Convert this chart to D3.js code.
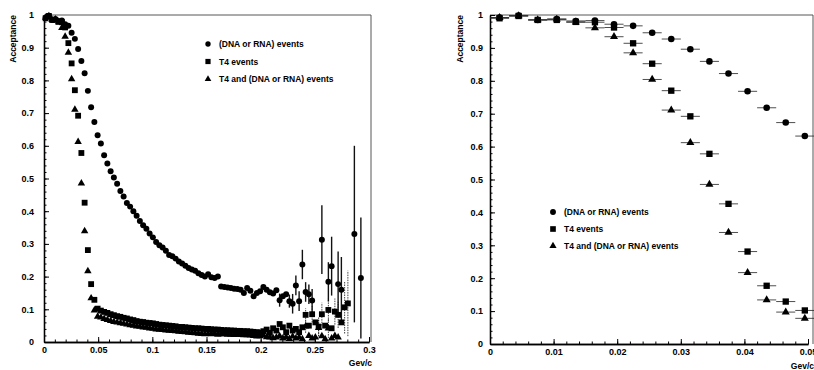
<html>
<head>
<title>Acceptance vs momentum</title>
<script type="text/javascript" src="https://cdnjs.cloudflare.com/ajax/libs/d3/7.8.5/d3.min.js"></script>
<style>
body { margin: 0; background: #fff; }
svg text { font-family: "Liberation Sans", Arial, sans-serif; font-weight: bold; fill: #000; }
</style>
<script type="text/javascript">

// histogram binning (Gev/c), bin centres are binWidth/2 + i*binWidth
var binWidth = 0.003;

// acceptance per bin (null = empty bin)
var dnaRna = [
  0.992, 0.998, 0.985, 0.988, 0.982, 0.983, 0.972, 0.967, 0.946, 0.927,
  0.896, 0.859, 0.822, 0.768, 0.718, 0.673, 0.632, 0.607, 0.571, 0.546,
  0.522, 0.503, 0.484, 0.462, 0.445, 0.425, 0.414, 0.400, 0.386, 0.370,
  0.357, 0.346, 0.332, 0.320, 0.306, 0.296, 0.289, 0.279, 0.266, 0.262,
  0.255, 0.246, 0.240, 0.233, 0.226, 0.222, 0.218, 0.210, 0.205, 0.200,
  0.207, 0.198, 0.196, 0.200, 0.170, 0.168, 0.167, 0.165, 0.163, 0.162,
  0.160, 0.150, 0.165, 0.157, 0.140, 0.150, 0.155, 0.168, 0.160, 0.152,
  0.148, 0.158, 0.128, 0.140, 0.146, 0.125, 0.117, 0.173, 0.125, 0.237,
  0.153, 0.146, 0.127, null, null, 0.313, null, 0.184, 0.232, null,
  0.177, 0.160, null, null, null, 0.330, null, 0.196, null, null
];

var t4 = [
  0.990, 0.997, 0.985, 0.985, 0.979, 0.978, 0.962, 0.914, 0.852, 0.770,
  0.692, 0.578, 0.426, 0.281, 0.177, 0.129, 0.102, 0.096, 0.092, 0.089,
  0.085, 0.082, 0.079, 0.077, 0.074, 0.072, 0.069, 0.067, 0.064, 0.062,
  0.061, 0.059, 0.058, 0.057, 0.055, 0.053, 0.052, 0.051, 0.050, 0.049,
  0.048, 0.046, 0.046, 0.045, 0.044, 0.043, 0.042, 0.042, 0.041, 0.040,
  0.040, 0.039, 0.038, 0.038, 0.037, 0.036, 0.036, 0.035, 0.035, 0.034,
  0.034, 0.033, 0.033, 0.032, 0.031, 0.030, 0.029, 0.033, 0.038, 0.028,
  0.042, 0.035, 0.055, 0.045, 0.030, 0.050, 0.035, 0.040, 0.030, 0.045,
  0.083, 0.050, 0.085, 0.060, 0.047, 0.085, 0.050, 0.098, 0.042, 0.093,
  0.083, 0.060, 0.106, 0.118, null, null, null, null, null, null
];

var t4AndDnaRna = [
  0.992, 0.997, 0.985, 0.987, 0.978, 0.961, 0.934, 0.885, 0.804, 0.711,
  0.612, 0.485, 0.339, 0.217, 0.134, 0.097, 0.078, 0.075, 0.071, 0.068,
  0.065, 0.062, 0.060, 0.058, 0.056, 0.054, 0.052, 0.050, 0.048, 0.047,
  0.045, 0.044, 0.042, 0.041, 0.039, 0.038, 0.037, 0.036, 0.035, 0.034,
  0.033, 0.032, 0.031, 0.030, 0.029, 0.028, 0.027, 0.026, 0.025, 0.024,
  0.025, 0.024, 0.025, 0.023, 0.024, 0.024, 0.023, 0.023, 0.022, 0.023,
  0.022, 0.021, 0.021, 0.020, 0.019, 0.017, 0.018, 0.020, 0.015, 0.014,
  0.012, 0.014, 0.018, 0.011, 0.015, 0.010, 0.017, 0.011, 0.014, 0.009,
  0.048, 0.019, 0.011, 0.014, 0.043, 0.018, 0.009, 0.042, 0.011, 0.019,
  0.014, null, null, null, null, null, null, null, null, null
];

// vertical errors that are visible on the plot, by bin index
var dnaRnaErr = { 72: 0.02, 75: 0.02, 76: 0.03, 77: 0.03, 78: 0.03, 79: 0.045, 80: 0.03, 81: 0.03, 82: 0.035,
                  85: 0.105, 87: 0.06, 88: 0.09, 90: 0.1, 91: 0.1, 95: 0.27, 97: 0.185 };
var t4Err = { 80: 0.02, 82: 0.025, 84: 0.03, 85: 0.035, 87: 0.035, 89: 0.04, 90: 0.04, 92: 0.08, 93: 0.1 };
var t4AndErr = { 80: 0.02, 84: 0.025, 87: 0.03 };

var seriesNames = ["(DNA or RNA) events", "T4 events", "T4 and (DNA or RNA) events"];
var seriesSymbols = [d3.symbolCircle, d3.symbolSquare, d3.symbolTriangle];

var yTicks = [0, 0.1, 0.2, 0.3, 0.4, 0.5, 0.6, 0.7, 0.8, 0.9, 1];
var leftXTicks = [0, 0.05, 0.1, 0.15, 0.2, 0.25, 0.3];
var rightXTicks = [0, 0.01, 0.02, 0.03, 0.04, 0.05];
var zoomBins = 17; // right plot only shows the first bins

function fmt(d) {
  return "" + (+d.toFixed(3));
}

function drawPanel(svg, p) {
  var x = d3.scaleLinear().domain(p.xDomain).range([p.left, p.xEnd]);
  var y = d3.scaleLinear().domain([0, 1]).range([p.bottom, p.top]);
  var g = svg.append("g");

  //frame: top and right sides are thin
  g.append("path")
    .attr("d", "M" + p.left + "," + p.top + "H" + p.frameRight + "V" + p.bottom)
    .attr("fill", "none").attr("stroke", "#444").attr("stroke-width", 0.9);

  //minor ticks
  g.append("g").attr("transform", "translate(0," + p.bottom + ")")
    .call(d3.axisBottom(x).tickValues(d3.range(p.xDomain[0], p.xDomain[1] + 1e-9, p.xMinor)).tickSize(-2.5).tickSizeOuter(0).tickFormat(""));
  g.append("g").attr("transform", "translate(" + p.left + ",0)")
    .call(d3.axisLeft(y).tickValues(d3.range(0, 1.0001, 0.02)).tickSize(-2.5).tickSizeOuter(0).tickFormat(""));

  //major ticks with labels
  g.append("g").attr("transform", "translate(0," + p.bottom + ")")
    .call(d3.axisBottom(x).tickValues(p.xTicks).tickSize(-5).tickSizeOuter(0).tickPadding(5).tickFormat(fmt));
  g.append("g").attr("transform", "translate(" + p.left + ",0)")
    .call(d3.axisLeft(y).tickValues(yTicks).tickSize(-5).tickSizeOuter(0).tickPadding(p.yPad).tickFormat(fmt));
  g.selectAll(".domain").attr("stroke", "#000").attr("stroke-width", 1.3);
  g.selectAll(".tick line").attr("stroke", "#000").attr("stroke-width", 1);
  g.selectAll(".tick text").style("font-size", "9px").style("font-family", null);

  g.append("text")
    .attr("transform", "translate(" + p.yLabelX + "," + p.top + ") rotate(-90)")
    .attr("text-anchor", "end")
    .style("font-size", "8.5px")
    .text("Acceptance");

  g.append("text")
    .attr("x", p.frameRight + 1)
    .attr("y", p.xLabelY)
    .attr("text-anchor", "end")
    .style("font-size", "8.5px")
    .text("Gev/c");

  var series = [
    { values: dnaRna, err: dnaRnaErr, size: p.sizes[0] },
    { values: t4, err: t4Err, size: p.sizes[1] },
    { values: t4AndDnaRna, err: t4AndErr, size: p.sizes[2] }
  ];

  series.forEach(function(s, si) {
    var pts = [];
    s.values.slice(0, p.nBins).forEach(function(v, i) {
      if (v === null) return;
      pts.push({ c: binWidth / 2 + i * binWidth, v: v, e: s.err[i] || 0 });
    });
    var sg = g.append("g");

    //horizontal bars = bin width
    sg.selectAll("line.h").data(pts).enter().append("line")
      .attr("x1", function(d) { return x(d.c - binWidth / 2); })
      .attr("x2", function(d) { return x(d.c + binWidth / 2); })
      .attr("y1", function(d) { return y(d.v); })
      .attr("y2", function(d) { return y(d.v); })
      .attr("stroke", "#222").attr("stroke-width", 0.8);

    sg.selectAll("line.v").data(pts.filter(function(d) { return d.e > 0; })).enter().append("line")
      .attr("x1", function(d) { return x(d.c); })
      .attr("x2", function(d) { return x(d.c); })
      .attr("y1", function(d) { return y(Math.max(0, d.v - d.e)); })
      .attr("y2", function(d) { return y(Math.min(1, d.v + d.e)); })
      .attr("stroke", "#111").attr("stroke-width", si == 0 ? 1.4 : 0.8)
      .attr("stroke-dasharray", si == 0 ? null : "1.5,1");

    sg.selectAll("path").data(pts).enter().append("path")
      .attr("transform", function(d) { return "translate(" + x(d.c) + "," + y(d.v) + ")"; })
      .attr("d", d3.symbol().type(seriesSymbols[si]).size(s.size))
      .attr("fill", "#000");
  });

  //legend
  seriesNames.forEach(function(name, i) {
    var ly = p.legendY + i * p.legendStep;
    g.append("path")
      .attr("transform", "translate(" + p.legendX + "," + ly + ")")
      .attr("d", d3.symbol().type(seriesSymbols[i]).size(p.sizes[i] * 0.8))
      .attr("fill", "#000");
    g.append("text")
      .attr("x", p.legendX + 11)
      .attr("y", ly + 3)
      .style("font-size", "8.5px")
      .text(name);
  });
}

window.onload = function() {
  var svg = d3.select("#chart").append("svg")
    .attr("width", 814)
    .attr("height", 370);

  drawPanel(svg, {
    xDomain: [0, 0.3], xTicks: leftXTicks, xMinor: 0.01,
    left: 44, xEnd: 369, frameRight: 371, top: 15, bottom: 342,
    nBins: dnaRna.length, sizes: [28, 34, 24], yPad: 10,
    yLabelX: 16, xLabelY: 366,
    legendX: 208, legendY: 44, legendStep: 17.5
  });

  drawPanel(svg, {
    xDomain: [0, 0.05], xTicks: rightXTicks, xMinor: 0.002,
    left: 490, xEnd: 808, frameRight: 813, top: 15, bottom: 344,
    nBins: zoomBins, sizes: [34, 40, 28], yPad: 7,
    yLabelX: 463, xLabelY: 369,
    legendX: 553, legendY: 212, legendStep: 17
  });
}

</script>
</head>
<body>
  <div id="chart"></div>
</body>
</html>
